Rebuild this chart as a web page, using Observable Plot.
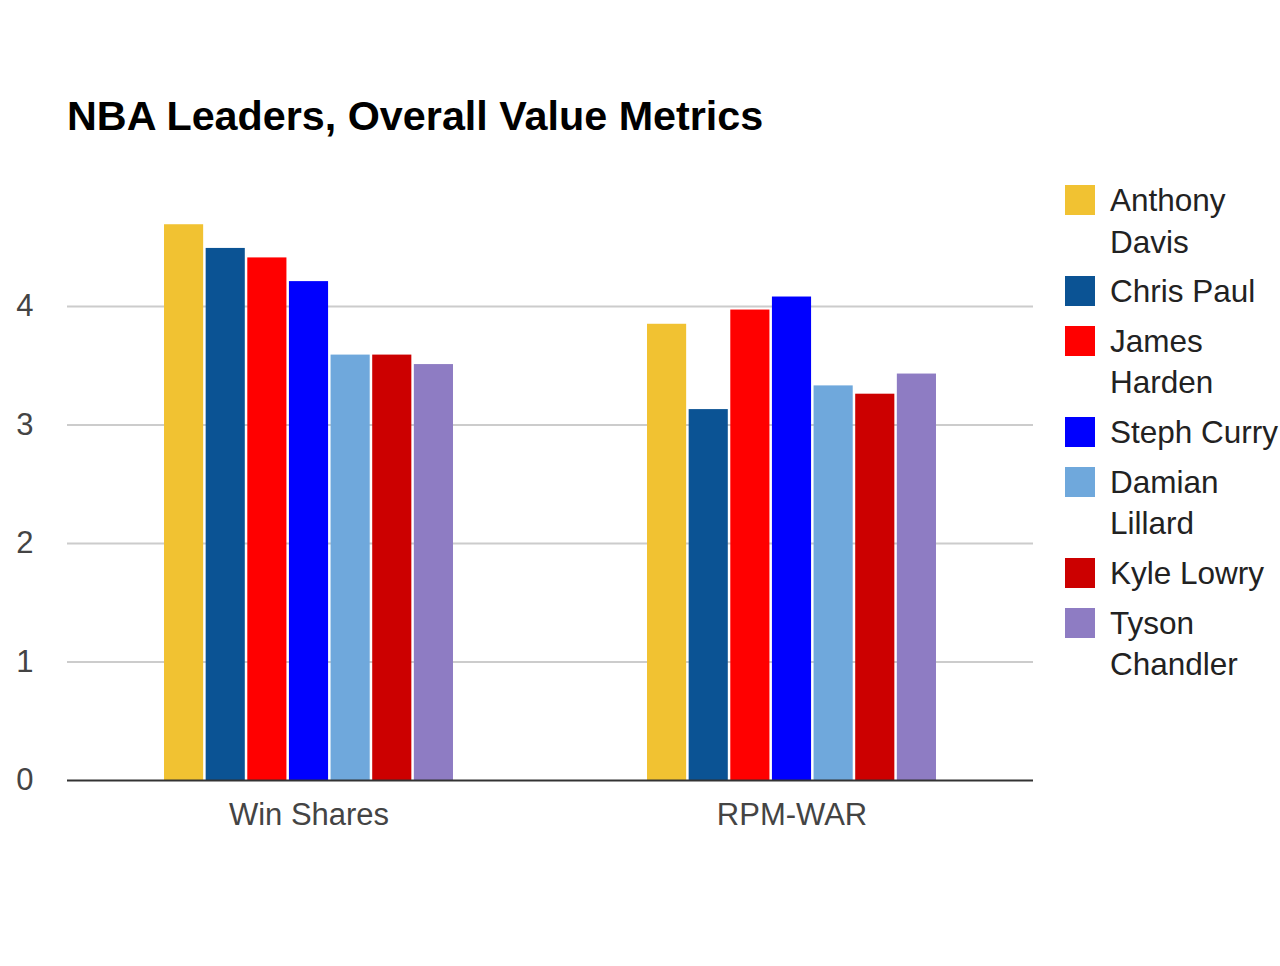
<!DOCTYPE html>
<html>
<head>
<meta charset="utf-8">
<script src="https://cdn.jsdelivr.net/npm/d3@7"></script>
<script src="https://cdn.jsdelivr.net/npm/@observablehq/plot@0.6"></script>
<style>
  html, body { margin: 0; padding: 0; background: #fff; width: 1280px; height: 966px; overflow: hidden; }
  #wrap { position: relative; width: 1280px; height: 966px; font-family: "Liberation Sans", Arial, sans-serif; }
  #title { position: absolute; left: 67px; top: 96px; font-size: 41.3px; line-height: 41px; font-weight: bold; color: #000; white-space: nowrap; }
  #chart { position: absolute; left: 0; top: 0; }
  #legend { position: absolute; left: 1065px; top: 180px; width: 215px; }
  .item { position: relative; padding-left: 45px; font-size: 31.5px; line-height: 41.5px; color: #222; margin-bottom: 8.2px; width: 170px; white-space: normal; }
  .sw { position: absolute; left: 0; top: 5px; width: 30px; height: 30px; }
</style>
</head>
<body>
<div id="wrap">
  <div id="title">NBA Leaders, Overall Value Metrics</div>
  <div id="chart"></div>
  <div id="legend"></div>
</div>
<script>
const metrics = ["Win Shares", "RPM-WAR"];
const players = ["Anthony Davis", "Chris Paul", "James Harden", "Steph Curry", "Damian Lillard", "Kyle Lowry", "Tyson Chandler"];
const winShares = [4.69, 4.49, 4.41, 4.21, 3.59, 3.59, 3.51];
const rpmWar = [3.85, 3.13, 3.97, 4.08, 3.33, 3.26, 3.43];
const colors = ["#F1C232", "#0B5394", "#FF0000", "#0000FF", "#6FA8DC", "#CC0000", "#8E7CC3"];
const yTicks = [0, 1, 2, 3, 4];

const series = {"Win Shares": winShares, "RPM-WAR": rpmWar};
const data = metrics.flatMap(m => players.map((p, j) => ({metric: m, player: p, value: series[m][j]})));

const chart = Plot.plot({
  width: 1280,
  height: 966,
  marginTop: 187.5,
  marginBottom: 186,
  marginLeft: 67,
  marginRight: 247,
  style: {fontFamily: "'Liberation Sans', Arial, sans-serif", fontSize: "31px", color: "#444", background: "transparent", overflow: "visible"},
  fx: {domain: metrics, padding: 0, label: null, tickSize: 0, tickPadding: 22, round: false},
  x: {domain: players, axis: null, paddingInner: 0.06, paddingOuter: 2.33, round: false},
  y: {domain: [0, 5], ticks: yTicks, tickFormat: d3.format("d"), label: null, tickSize: 0, tickPadding: 34},
  color: {domain: players, range: colors},
  marks: [
    Plot.ruleY(yTicks.slice(1), {stroke: "#cccccc", strokeWidth: 2}),
    Plot.barY(data, {fx: "metric", x: "player", y: "value", fill: "player"}),
    Plot.ruleY([0], {stroke: "#333333", strokeWidth: 2})
  ]
});
document.getElementById("chart").appendChild(chart);

const legend = document.getElementById("legend");
players.forEach((p, i) => {
  const item = document.createElement("div");
  item.className = "item";
  const sw = document.createElement("div");
  sw.className = "sw";
  sw.style.background = colors[i];
  item.appendChild(sw);
  item.appendChild(document.createTextNode(p));
  legend.appendChild(item);
});
</script>
</body>
</html>
